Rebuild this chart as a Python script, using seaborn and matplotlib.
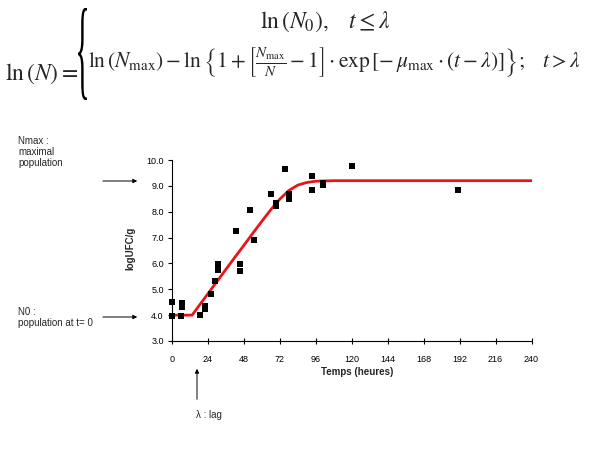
import matplotlib
matplotlib.use("Agg")
import matplotlib.pyplot as plt
import seaborn as sns
import pandas as pd
from matplotlib.textpath import TextPath
from matplotlib.patches import PathPatch, FancyArrowPatch
from matplotlib.font_manager import FontProperties
from matplotlib.transforms import Affine2D, IdentityTransform

# observed data
time_h = [0, 0, 6, 6.4, 6.4, 18.4, 21.8, 21.8, 25.8, 28.7, 30.9, 30.9, 43, 45.2, 45.2,
          52.4, 55, 65.9, 69.7, 69.7, 75.5, 77.9, 77.9, 93.7, 93.7, 101, 101, 120, 190.8]
log_ufc = [4.52, 3.98, 3.98, 4.46, 4.30, 4.0, 4.35, 4.25, 4.82, 5.31, 5.97, 5.73, 7.27, 5.97, 5.70,
           8.05, 6.90, 8.67, 8.33, 8.22, 9.66, 8.67, 8.49, 9.39, 8.84, 9.12, 9.05, 9.77, 8.84]

# fitted curve
curve_t = [0, 13.4, 18, 24, 30, 36, 42, 48, 54, 60, 66, 72, 78, 84, 90, 96, 102, 108, 240]
curve_y = [4.0, 4.0, 4.36, 4.83, 5.30, 5.77, 6.24, 6.70, 7.17, 7.63, 8.08, 8.49, 8.82, 9.03,
           9.13, 9.18, 9.19, 9.2, 9.2]

x_ticks = [0, 24, 48, 72, 96, 120, 144, 168, 192, 216, 240]
y_ticks = [3.0, 4.0, 5.0, 6.0, 7.0, 8.0, 9.0, 10.0]

sns.set_style("white")
plt.rcParams['font.family'] = ['Liberation Sans', 'DejaVu Sans']
plt.rcParams['mathtext.fontset'] = 'stix'

W, H = 600, 449
fig = plt.figure(figsize=(6.0, 4.49), dpi=100)
ax = fig.add_axes([172 / W, 1 - 341 / H, (531.5 - 172) / W, (341 - 160) / H])

obs = pd.DataFrame({"t": time_h, "y": log_ufc})
fit = pd.DataFrame({"t": curve_t, "y": curve_y})

sns.lineplot(data=fit, x="t", y="y", ax=ax, color="#e8141b", linewidth=2.0, zorder=2)
sns.scatterplot(data=obs, x="t", y="y", ax=ax, marker="s", color="black", s=20,
                edgecolor="black", linewidth=0, zorder=3, clip_on=False)

ax.set_xlim(0, 240)
ax.set_ylim(3.0, 10.0)
ax.set_xticks(x_ticks)
ax.set_xticklabels([str(v) for v in x_ticks])
ax.set_yticks(y_ticks)
ax.set_yticklabels([f"{v:.1f}" for v in y_ticks])
for s in ["top", "right"]:
    ax.spines[s].set_visible(False)
for s in ["left", "bottom"]:
    ax.spines[s].set_color("black")
    ax.spines[s].set_linewidth(0.8)
ax.tick_params(axis="y", direction="out", length=3, width=0.8, pad=3, labelsize=6.5,
               left=True, colors="black")
ax.tick_params(axis="x", direction="inout", length=4, width=0.8, pad=8, labelsize=6.5,
               bottom=True, colors="black")
ax.set_xlabel("")
ax.set_ylabel("")
ax.patch.set_alpha(0)

# axis titles
fig.text(357 / W, 1 - 372 / H, "Temps (heures)", ha="center", va="center",
         fontsize=7, fontweight="bold")
fig.text(130 / W, 1 - 248 / H, "logUFC/g", ha="center", va="center",
         fontsize=7, fontweight="bold", rotation=90)

# annotations
fig.text(18 / W, 1 - 136 / H, "Nmax :\nmaximal\npopulation", ha="left", va="top",
         fontsize=7, linespacing=1.15)
fig.text(18 / W, 1 - 307 / H, "N0 :\npopulation at t= 0", ha="left", va="top",
         fontsize=7, linespacing=1.15)
fig.text(209 / W, 1 - 415 / H, "λ : lag", ha="center", va="center", fontsize=7)

arrow = dict(arrowstyle="-|>", color="black", lw=0.7, mutation_scale=6)
fig.add_artist(FancyArrowPatch((100 / W, 1 - 181 / H), (140 / W, 1 - 181 / H),
                               transform=fig.transFigure, **arrow))
fig.add_artist(FancyArrowPatch((100 / W, 1 - 317 / H), (140 / W, 1 - 317 / H),
                               transform=fig.transFigure, **arrow))
fig.add_artist(FancyArrowPatch((197 / W, 1 - 402 / H), (197 / W, 1 - 366 / H),
                               transform=fig.transFigure, **arrow))

# formula
fig.text(5 / W, 1 - 74 / H, r"$\ln\left(N\right) =$", ha="left", va="center", fontsize=17)

# tall narrow brace built from a glyph outline (pixel coordinates)
bp = TextPath((0, 0), "{", size=100, prop=FontProperties(family="Liberation Serif"))
ext = bp.get_extents()
tx0, tx1 = 78.0, 87.0      # target x range in px
ty0, ty1 = 8.0, 100.0      # target y range in px (from top)
sx = (tx1 - tx0) / ext.width
sy = (ty1 - ty0) / ext.height
tr = (Affine2D().translate(-ext.x0, -ext.y0).scale(sx, sy)
      .translate(tx0, H - ty1)) + IdentityTransform()
fig.add_artist(PathPatch(bp, transform=tr, color="black", lw=0))

fig.text(325 / W, 1 - 22 / H, r"$\ln\left(N_0\right),\quad t \leq \lambda$", ha="center",
         va="center", fontsize=17)
fig.text(88 / W, 1 - 62 / H,
         r"$\ln\left(N_{\max}\right) - \ln\left\{1+\left[\frac{N_{\max}}{N}-1\right]\cdot"
         r"\exp\left[-\,\mu_{\max}\cdot\left(t-\lambda\right)\right]\right\};\quad t>\lambda$",
         ha="left", va="center", fontsize=15.5)

fig.savefig("out.png", dpi=100, facecolor="white")
